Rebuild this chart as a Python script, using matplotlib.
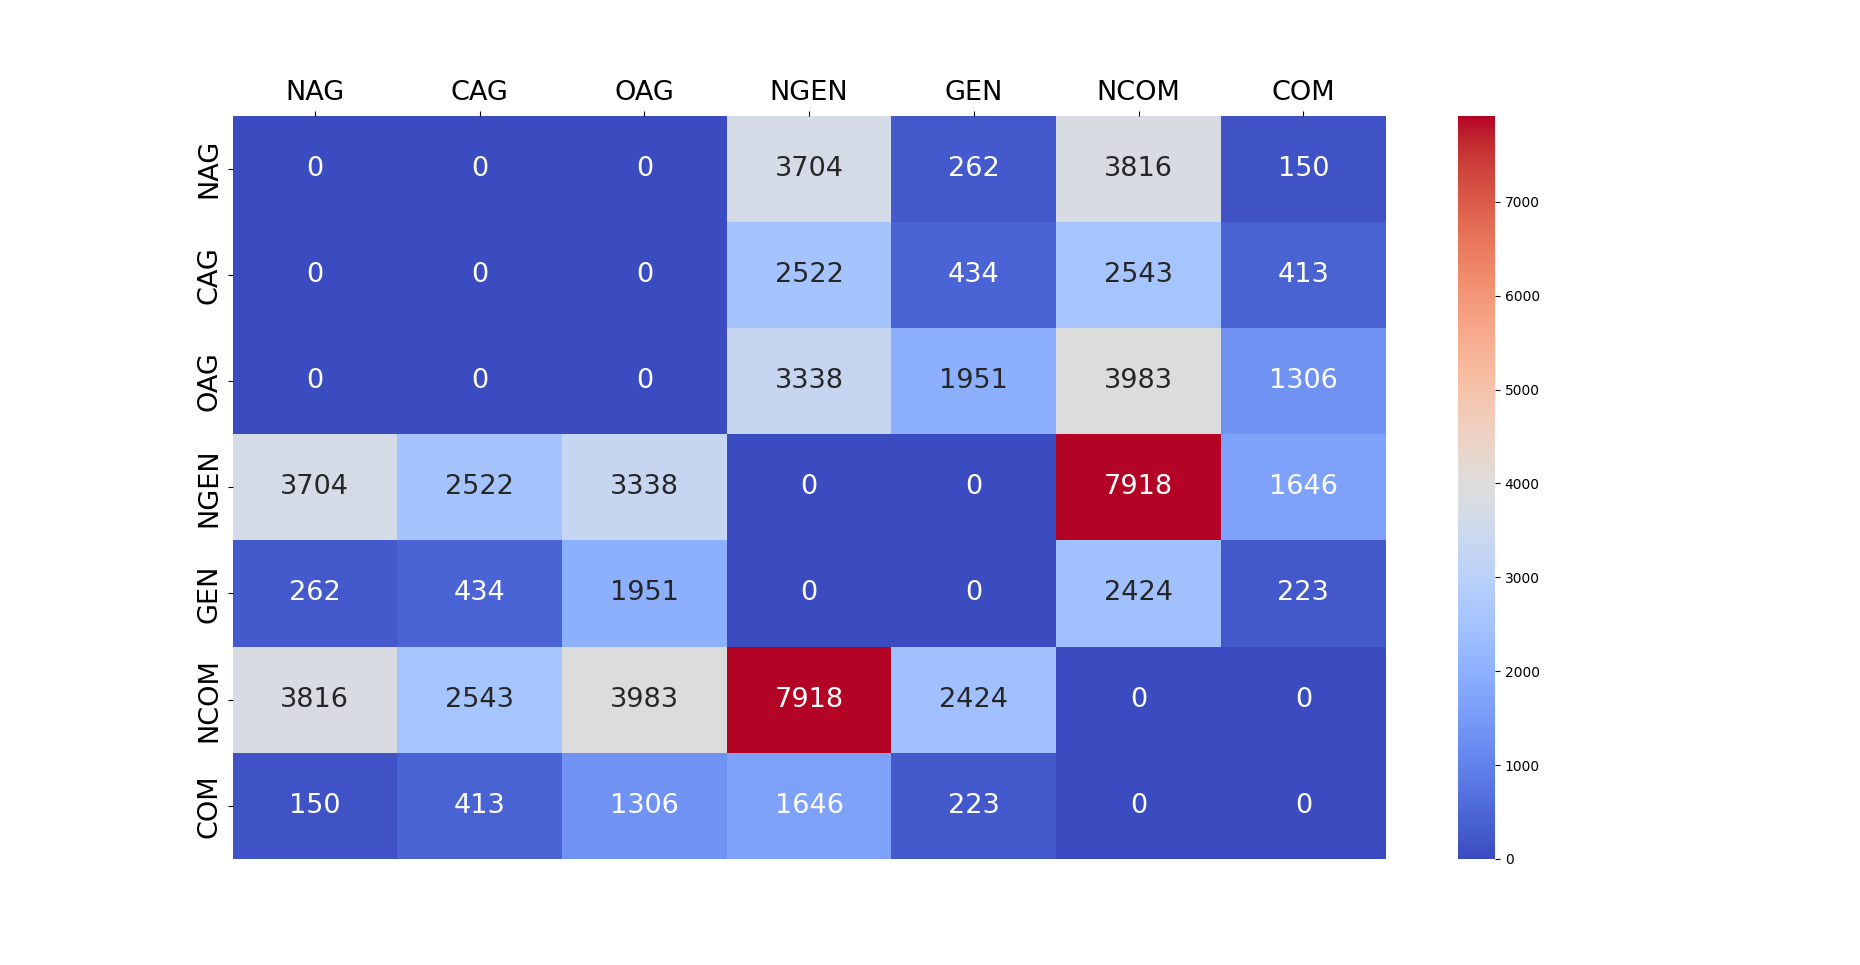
import numpy as np
import pandas as pd
import seaborn as sns
import matplotlib
matplotlib.use("Agg")
import matplotlib.pyplot as plt

labels = ["NAG", "CAG", "OAG", "NGEN", "GEN", "NCOM", "COM"]

row_nag = [0, 0, 0, 3704, 262, 3816, 150]
row_cag = [0, 0, 0, 2522, 434, 2543, 413]
row_oag = [0, 0, 0, 3338, 1951, 3983, 1306]
row_ngen = [3704, 2522, 3338, 0, 0, 7918, 1646]
row_gen = [262, 434, 1951, 0, 0, 2424, 223]
row_ncom = [3816, 2543, 3983, 7918, 2424, 0, 0]
row_com = [150, 413, 1306, 1646, 223, 0, 0]

df = pd.DataFrame([row_nag, row_cag, row_oag, row_ngen, row_gen, row_ncom, row_com],
                  index=labels, columns=labels)

fig = plt.figure(figsize=(18.6, 9.65), dpi=100)
ax = sns.heatmap(df, annot=True, fmt="d", cmap="coolwarm", annot_kws={"size": 19.5})
ax.xaxis.tick_top()
ax.tick_params(axis="both", labelsize=19.5)
plt.setp(ax.get_yticklabels(), rotation=90, va="center")
plt.savefig("out.png", dpi=100)
